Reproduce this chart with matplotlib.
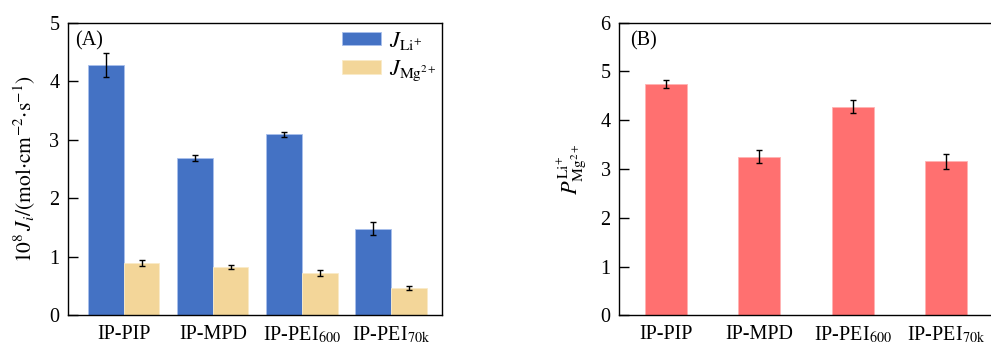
import numpy as np
import matplotlib
matplotlib.use("Agg")
from matplotlib import pyplot as plt

plt.rcParams['font.family'] = ['Liberation Serif', 'DejaVu Serif']
plt.rcParams['mathtext.fontset'] = 'stix'

# data
membranes = ['IP-PIP', 'IP-MPD', r'IP-PEI$_{600}$', r'IP-PEI$_{70\mathrm{k}}$']
flux_li = [4.28, 2.69, 3.09, 1.48]
flux_li_err = [0.21, 0.05, 0.045, 0.11]
flux_mg = [0.90, 0.83, 0.72, 0.47]
flux_mg_err = [0.05, 0.035, 0.05, 0.035]
selectivity = [4.74, 3.25, 4.28, 3.16]
selectivity_err = [0.085, 0.13, 0.13, 0.15]

c_li = '#4472C4'
c_mg = '#F3D699'
c_sel = '#FF7070'
fs = 14.5

fig = plt.figure(figsize=(9.91, 3.47), dpi=100)
ax1 = fig.add_axes([0.0683, 0.0914, 0.3774, 0.8432])
ax2 = fig.add_axes([0.6246, 0.0914, 0.3774, 0.8432])

x = np.arange(len(membranes))
w = 0.4
ekw = dict(elinewidth=1.0, capthick=1.0, ecolor='black')

# (A) fluxes
ax1.bar(x - w / 2, flux_li, w, color=c_li, edgecolor='#A9C0EC', linewidth=0.6,
        label=r'$J_{\mathrm{Li}^{+}}$', yerr=flux_li_err, capsize=2.5, error_kw=ekw)
ax1.bar(x + w / 2, flux_mg, w, color=c_mg, edgecolor='#FAEBC8', linewidth=0.6,
        label=r'$J_{\mathrm{Mg}^{2+}}$', yerr=flux_mg_err, capsize=2.5, error_kw=ekw)
ax1.set_xlim(-0.63, 3.57)
ax1.set_ylim(0, 5)
ax1.set_yticks(range(0, 6))
ax1.set_ylabel(r'$10^8\,J_i/(\mathrm{mol{\cdot}cm^{-2}{\cdot}s^{-1}})$', fontsize=15.5, labelpad=8)
ax1.text(0.02, 0.9375, '(A)', transform=ax1.transAxes, fontsize=fs, va='center', ha='left')
ax1.legend(loc='upper left', bbox_to_anchor=(0.68, 1.045), frameon=False, fontsize=16,
           handlelength=1.75, handleheight=0.55, labelspacing=0.3, handletextpad=0.35)

# (B) selectivity
ax2.bar(x, selectivity, 0.45, color=c_sel, edgecolor='#FFB3B3', linewidth=0.6,
        yerr=selectivity_err, capsize=2.5, error_kw=ekw)
ax2.set_xlim(-0.5, 3.5)
ax2.set_ylim(0, 6)
ax2.set_yticks(range(0, 7))
ax2.set_ylabel(r'$P^{\mathrm{Li}^{+}}_{\mathrm{Mg}^{2+}}$', fontsize=16, labelpad=8)
ax2.text(0.029, 0.9375, '(B)', transform=ax2.transAxes, fontsize=fs, va='center', ha='left')

for ax in (ax1, ax2):
    ax.set_xticks(x)
    ax.set_xticklabels(membranes)
    ax.tick_params(axis='y', direction='in', length=7, width=1, labelsize=fs, pad=6)
    ax.tick_params(axis='x', length=0, labelsize=fs, pad=7)
    for sp in ax.spines.values():
        sp.set_linewidth(1.0)

plt.savefig('out.png', dpi=100)
